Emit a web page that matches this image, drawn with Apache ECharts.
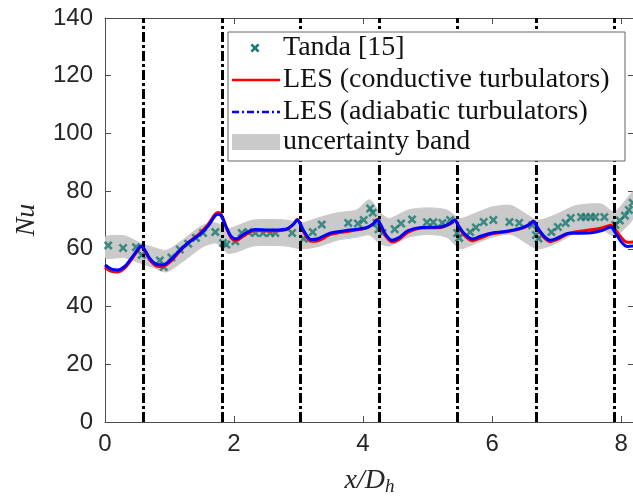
<!DOCTYPE html>
<html>
<head>
<meta charset="utf-8">
<script src="https://cdn.jsdelivr.net/npm/echarts@6/dist/echarts.min.js"></script>
<style>html,body{margin:0;padding:0;background:#fff;}#c{width:633px;height:500px;}</style>
</head>
<body>
<div id="c"></div>
<script>
// ---- data ----
const tandaX = [0.05,0.28,0.48,0.57,0.85,0.91,1.03,1.16,1.29,1.41,1.52,1.71,1.83,1.88,2.02,2.12,2.22,2.33,2.45,2.56,2.64,2.9,3.08,3.22,3.36,3.77,3.92,4.01,4.11,4.15,4.21,4.24,4.3,4.49,4.59,4.76,4.99,5.09,5.23,5.35,5.46,5.49,5.66,5.75,5.87,6.02,6.27,6.42,6.62,6.68,6.72,6.92,7.02,7.14,7.22,7.38,7.45,7.53,7.6,7.74,7.91,7.98,8.06,8.12,8.18];
const tandaNu = [61.2,60.3,60.6,57.9,56.0,53.7,57.0,59.8,61.8,63.8,65.5,65.8,62.0,61.5,62.6,65.5,65.8,65.5,65.5,65.5,65.5,65.5,63.5,65.8,68.4,69.0,68.8,70.0,74.0,72.5,69.0,66.8,65.5,66.8,68.8,70.2,69.2,69.2,69.0,70.0,65.5,63.8,65.8,67.4,69.3,70.0,69.3,69.0,68.2,64.8,63.6,65.8,67.6,69.0,70.7,71.0,71.0,71.0,71.0,71.0,68.3,69.8,71.5,73.5,76.0];

const lesX = [0.0,0.1,0.2,0.3,0.4,0.5,0.56,0.62,0.7,0.8,0.88,1.0,1.16,1.3,1.47,1.6,1.75,1.8,1.88,1.95,2.03,2.15,2.33,2.55,2.8,2.92,2.98,3.03,3.1,3.2,3.3,3.5,3.8,4.05,4.15,4.22,4.27,4.35,4.45,4.55,4.7,4.9,5.2,5.35,5.42,5.48,5.58,5.7,5.8,6.0,6.2,6.45,6.58,6.64,6.7,6.8,6.9,7.0,7.2,7.5,7.7,7.84,7.9,8.0,8.1,8.2];
const lesConductive = [53.7,52.2,52.0,53.2,56.0,59.2,60.8,59.2,56.0,54.0,53.8,55.3,59.2,62.3,65.4,68.5,72.6,72.0,67.5,64.0,62.8,64.5,66.4,66.2,66.6,68.5,70.2,68.5,65.0,62.6,62.8,65.0,66.2,67.2,68.5,70.2,68.3,64.5,62.4,63.2,65.8,67.2,67.4,68.6,70.0,67.8,64.5,62.8,63.6,65.2,65.8,67.0,68.4,69.6,67.5,64.0,62.5,63.2,65.4,66.5,67.2,68.2,67.0,64.0,62.3,62.4];
const lesAdiabatic = [54.4,53.0,52.7,53.8,56.5,59.5,61.0,59.5,56.5,54.6,54.4,55.8,59.5,62.3,65.0,68.0,72.0,71.5,67.5,64.5,63.4,65.0,66.7,66.5,66.8,68.5,70.0,68.5,65.5,63.2,63.5,65.5,66.5,67.3,68.5,70.0,68.5,65.0,63.0,63.8,66.3,67.4,67.6,68.8,70.0,68.0,65.0,63.4,64.2,65.5,66.0,67.2,68.5,69.6,67.5,64.5,63.0,63.6,65.4,65.5,66.3,67.6,66.0,62.5,60.8,61.0];

const bandX = [0.0,0.3,0.55,0.75,0.95,1.2,1.5,1.72,1.9,2.05,2.3,2.8,3.05,3.3,3.6,3.9,4.1,4.25,4.4,4.7,5.0,5.3,5.5,5.7,6.0,6.3,6.7,7.0,7.3,7.7,7.9,8.2];
const bandLow = [57,57,55,53.5,52,55.5,60.5,62,58.5,59,61,61,60,60.8,63,64,64.8,62,61,64,65,64,60,61.5,64,65,60,62,65.5,66.5,64.5,71];
const bandHigh = [64,64.5,62,60.5,59.5,63,68,69,67,68,70,70,69,70.7,72.5,73.5,77,73,70.5,73.5,74.2,73.5,70.5,72,74.5,75,70,72,75,75.5,72.8,80];

const turbulatorX = [0.6,1.82,3.03,4.25,5.46,6.68,7.89];

const xTickLabels = ['0','2','4','6','8'];
const yTickLabels = ['0','20','40','60','80','100','120','140'];

const legendNames = ['Tanda [15]','LES (conductive turbulators)','LES (adiabatic turbulators)','uncertainty band'];

// ---- chart ----
const zip = (a,b) => a.map((v,i)=>[v,b[i]]);
const X_PTS = [[2,0],[5,3],[8,0],[10,2],[7,5],[10,8],[8,10],[5,7],[2,10],[0,8],[3,5],[0,2]];
const X_PATH = 'path://M' + X_PTS.map(p=>p[0]+','+p[1]).join(' L') + ' Z';
const TEAL = '#17786f';
const AXC = '#4d4d4d';
const SANS = 'Liberation Sans, Arial, sans-serif';
const SERIF = 'Liberation Serif, Times New Roman, serif';
const BANDC = '#cacaca';

const chart = echarts.init(document.getElementById('c'), null, {renderer:'canvas'});

const legendGraphic = [
  {type:'rect', shape:{x:228,y:32,width:397,height:129}, style:{fill:'#fff',stroke:'#666',lineWidth:1}, z:100},
  {type:'polygon', shape:{points:X_PTS.map(p=>[250.5+p[0]*0.9, 43.5+p[1]*0.9])}, style:{fill:TEAL}, z:101},
  {type:'line', shape:{x1:232,y1:80,x2:280,y2:80}, style:{stroke:'#ff0000',lineWidth:2.5}, z:101},
  {type:'line', shape:{x1:232,y1:112,x2:280,y2:112}, style:{stroke:'#0000ff',lineWidth:2.5,lineDash:[7,3,2,3]}, z:101},
  {type:'rect', shape:{x:232,y:134,width:48,height:16}, style:{fill:BANDC}, z:101}
];
[48,80,112,142].forEach((yc,i)=>{
  legendGraphic.push({type:'text', x:283, y:yc, style:{text:legendNames[i], font:'28px '+SERIF, fill:'#111', verticalAlign:'middle', align:'left'}, z:102});
});

function renderBand(params, api){
  if (params.dataIndex !== 0) return null;
  const up = bandX.map((x,i)=>api.coord([x, bandHigh[i]]));
  const lo = bandX.map((x,i)=>api.coord([x, bandLow[i]]));
  const pts = up.concat(lo.slice().reverse());
  return {type:'polygon', shape:{points:pts, smooth:0.25}, style:{fill:BANDC, stroke:BANDC, lineWidth:1}, silent:true};
}

const option = {
  animation:false,
  backgroundColor:'#fff',
  grid:{left:105, top:18, width:529, height:404, containLabel:false, outerBoundsMode:'none'},
  xAxis:[{
    type:'value', min:0, max:8.2, interval:2,
    axisLine:{show:true, onZero:false, lineStyle:{color:AXC,width:1}},
    axisTick:{show:true, inside:true, length:6, lineStyle:{color:AXC}},
    axisLabel:{fontFamily:SANS, fontSize:24, color:'#262626', margin:10, showMaxLabel:false,
      formatter:(v)=>{const i=Math.round(v/2); return (xTickLabels[i]!==undefined && Math.abs(v-2*i)<1e-9) ? xTickLabels[i] : '';}},
    splitLine:{show:false},
    name:'{i|x/D}{s|h}', nameLocation:'middle', nameGap:43,
    nameTextStyle:{rich:{
      i:{fontFamily:SERIF, fontStyle:'italic', fontSize:28, color:'#262626'},
      s:{fontFamily:SERIF, fontStyle:'italic', fontSize:19, color:'#262626', padding:[12,0,0,0]}
    }}
  },{
    type:'value', position:'top', min:0, max:8.2, interval:2,
    axisLine:{show:true, onZero:false, lineStyle:{color:AXC,width:1}},
    axisTick:{show:true, inside:true, length:6, lineStyle:{color:AXC}},
    axisLabel:{show:false}, splitLine:{show:false}
  }],
  yAxis:[{
    type:'value', min:0, max:140, interval:20,
    axisLine:{show:true, onZero:false, lineStyle:{color:AXC,width:1}},
    axisTick:{show:true, inside:true, length:6, lineStyle:{color:AXC}},
    axisLabel:{fontFamily:SANS, fontSize:24, color:'#262626', margin:12,
      formatter:(v)=>yTickLabels[Math.round(v/20)]},
    splitLine:{show:false},
    name:'Nu', nameLocation:'middle', nameGap:64, nameRotate:90,
    nameTextStyle:{fontFamily:SERIF, fontStyle:'italic', fontSize:28, color:'#262626'}
  },{
    type:'value', position:'right', min:0, max:140, interval:20,
    axisLine:{show:true, onZero:false, lineStyle:{color:AXC,width:1}},
    axisTick:{show:true, inside:true, length:6, lineStyle:{color:AXC}},
    axisLabel:{show:false}, splitLine:{show:false}
  }],
  series:[
    {name:legendNames[3], type:'custom', renderItem:renderBand, data:bandX.map((x,i)=>[x, bandLow[i], bandHigh[i]]),
     encode:{x:0, y:[1,2]}, z:1, silent:true, clip:true},
    {name:legendNames[0], type:'scatter', data:zip(tandaX,tandaNu), symbol:X_PATH, symbolSize:9,
     itemStyle:{color:TEAL}, z:3},
    {name:legendNames[1], type:'line', data:zip(lesX,lesConductive), symbol:'none', smooth:0.35,
     lineStyle:{color:'#ff0000', width:3}, z:4},
    {name:legendNames[2], type:'line', data:zip(lesX,lesAdiabatic), symbol:'none', smooth:0.35,
     lineStyle:{color:'#0000ff', width:3}, z:5,
     markLine:{silent:true, symbol:['none','none'], label:{show:false},
       lineStyle:{color:'#000', width:3, type:[10,3,3,3]},
       data:turbulatorX.map(x=>({xAxis:x}))}}
  ],
  graphic:legendGraphic
};
chart.setOption(option);
</script>
</body>
</html>
